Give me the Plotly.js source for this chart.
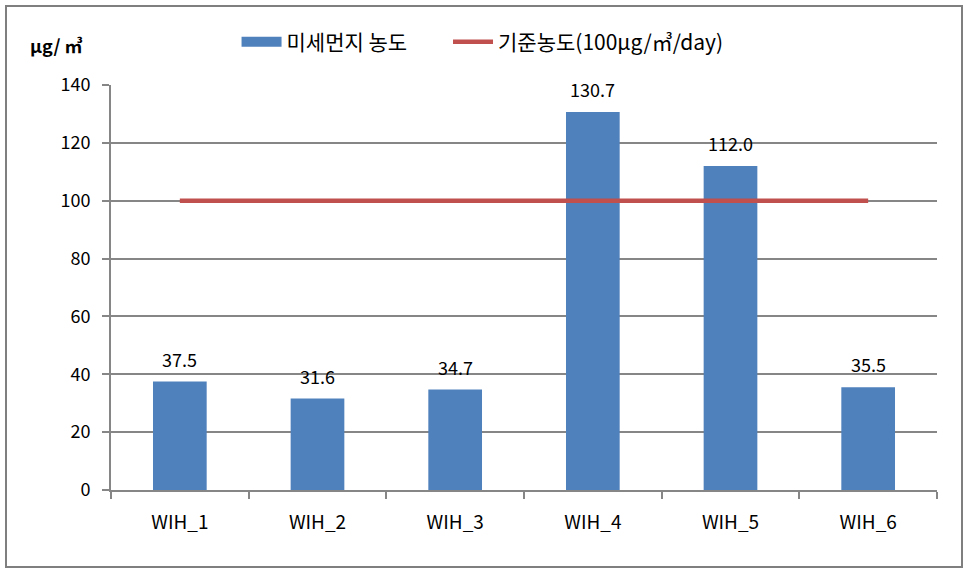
<!DOCTYPE html>
<html>
<head>
<meta charset="utf-8">
<script src="https://cdn.plot.ly/plotly-3.0.1.min.js"></script>
<style>
html,body{margin:0;padding:0;background:#fff;}
#wrap{position:relative;width:968px;height:572px;}
#chart{width:968px;height:572px;}
#frame{position:absolute;left:5px;top:5px;width:954px;height:559px;border:2px solid #7f7f7f;pointer-events:none;}
</style>
</head>
<body>
<div id="wrap"><div id="chart"></div><div id="frame"></div></div>
<script>
const categories = ["WIH_1","WIH_2","WIH_3","WIH_4","WIH_5","WIH_6"];
const pmValues = [37.5, 31.6, 34.7, 130.7, 112.0, 35.5];
const standardValues = [100, 100, 100, 100, 100, 100];
const seriesNames = ["미세먼지 농도", "기준농도(100μg/㎥/day)"];
const yTicks = [0, 20, 40, 60, 80, 100, 120, 140];

const FONT = "'Noto Sans CJK KR', 'Open Sans', sans-serif";
const BLUE = "#4f81bd";
const RED = "#c0504d";

const traces = [
  {
    type: "bar",
    x: categories,
    y: pmValues,
    name: seriesNames[0],
    marker: {color: BLUE},
    showlegend: false,
    width: 0.39
  },
  {
    type: "scatter",
    mode: "lines",
    x: [null],
    y: [null],
    name: seriesNames[0],
    line: {color: BLUE, width: 12},
    showlegend: true,
    legend: "legend"
  },
  {
    type: "scatter",
    mode: "lines",
    x: categories,
    y: standardValues,
    name: seriesNames[1],
    line: {color: RED, width: 4.5},
    legend: "legend2"
  }
];

const labelAnnotations = categories.map((c, i) => ({
  x: c, y: pmValues[i], xref: "x", yref: "y",
  text: pmValues[i].toFixed(1), showarrow: false,
  xanchor: "center", yanchor: "bottom", yshift: 8,
  font: {family: FONT, size: 18, color: "#000"}
}));

const legendCommon = {
  orientation: "h",
  yanchor: "middle",
  y: 1.106,
  xanchor: "left",
  font: {family: FONT, size: 21, color: "#000"},
  itemwidth: 40,
  bgcolor: "rgba(0,0,0,0)"
};

const layout = {
  width: 968,
  height: 572,
  margin: {l: 111, r: 31, t: 85, b: 82, autoexpand: false},
  paper_bgcolor: "#fff",
  plot_bgcolor: "#fff",
  font: {family: FONT, size: 18, color: "#000"},
  showlegend: true,
  legend: Object.assign({}, legendCommon, {x: 0.152}),
  legend2: Object.assign({}, legendCommon, {x: 0.408}),
  xaxis: {
    type: "category",
    showline: true, linecolor: "#868686", linewidth: 2,
    ticks: "outside", tickson: "boundaries", ticklen: 7, tickcolor: "#868686", tickwidth: 2,
    tickfont: {family: FONT, size: 19, color: "#000"},
    ticklabelstandoff: 14,
    showgrid: false
  },
  yaxis: {
    range: [0, 140],
    tickvals: yTicks,
    showline: true, linecolor: "#868686", linewidth: 2,
    ticks: "outside", ticklen: 7, tickcolor: "#868686", tickwidth: 2,
    showgrid: true, gridcolor: "#868686", gridwidth: 2,
    zeroline: false,
    tickfont: {family: FONT, size: 18, color: "#000"},
    ticklabelstandoff: 8
  },
  annotations: [
    {
      xref: "paper", yref: "paper",
      x: -0.067, y: 1.099, xanchor: "center", yanchor: "middle",
      text: "<b>μg/ ㎥</b>", showarrow: false,
      font: {family: FONT, size: 18, color: "#000"}
    }
  ].concat(labelAnnotations)
};

Plotly.newPlot("chart", traces, layout, {displayModeBar: false, staticPlot: true});
</script>
</body>
</html>
